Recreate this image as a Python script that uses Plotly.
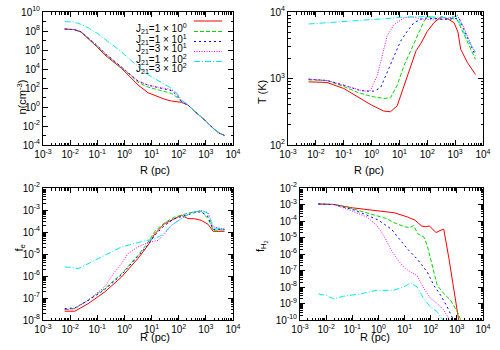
import plotly.graph_objects as go

# ---------------- data (log10 values) ----------------
labels = ["J<sub>21</sub>=1 × 10<sup>0</sup>", "J<sub>21</sub>=1 × 10<sup>1</sup>",
          "J<sub>21</sub>=3 × 10<sup>1</sup>", "J<sub>21</sub>=1 × 10<sup>2</sup>",
          "J<sub>21</sub>=3 × 10<sup>2</sup>"]
colors = ["#ff0000", "#00d800", "#0000ff", "#ff00ff", "#00eaea"]
dashes = ["solid", "4px,2px", "2px,3px", "1px,1.5px", "6px,2px,1px,2px"]

x_exponents = [-3, -2, -1, 0, 1, 2, 3, 4]
n_exponents = [-4, -2, 0, 2, 4, 6, 8, 10]
T_exponents = [2, 3, 4]
fe_exponents = [-8, -7, -6, -5, -4, -3, -2]
fh_exponents = [-10, -9, -8, -7, -6, -5, -4, -3, -2]

# Panel 1: density n (cm^-3) vs R (pc)
n_logR = [-2.2, -1.85, -1.6, -1.34, -1.0, -0.73, -0.42, -0.11, 0.2, 0.5, 0.87, 1.12, 1.5, 1.73, 1.95, 2.1, 2.34, 2.6, 2.96, 3.15, 3.33, 3.5, 3.69]
n_red = [8.2, 8.15, 7.9, 7.23, 6.3, 5.5, 4.75, 4.07, 3.2, 2.32, 1.5, 1.2, 0.8, 0.63, 0.55, 0.49, 0.21, -0.5, -1.37, -1.95, -2.4, -2.75, -3.0]
n_green = [8.2, 8.15, 7.9, 7.25, 6.35, 5.6, 4.85, 4.2, 3.4, 2.6, 2.1, 1.9, 1.6, 1.44, 1.0, 0.55, 0.21, -0.5, -1.37, -1.95, -2.4, -2.75, -3.0]
n_blue = [8.2, 8.15, 7.92, 7.3, 6.45, 5.7, 4.95, 4.3, 3.55, 2.74, 2.3, 2.14, 1.85, 1.72, 1.2, 0.58, 0.21, -0.5, -1.37, -1.95, -2.4, -2.75, -3.0]
n_magenta = [8.2, 8.15, 7.92, 7.3, 6.45, 5.7, 4.95, 4.3, 3.55, 2.74, 2.3, 2.14, 1.95, 1.85, 1.3, 0.6, 0.21, -0.5, -1.37, -1.95, -2.4, -2.75, -3.0]
n_cyan = [8.98, 8.95, 8.7, 8.35, 7.75, 7.2, 6.5, 5.8, 5.0, 4.25, 3.4, 3.0, 2.35, 1.96, 1.4, 0.74, 0.25, -0.5, -1.37, -1.95, -2.4, -2.75, -3.0]

# Panel 2: temperature T (K)
T_red_logR = [-2.26, -1.6, -1.0, -0.5, 0.0, 0.44, 0.68, 0.92, 1.16, 1.4, 1.6, 1.76, 2.0, 2.24, 2.5, 2.72, 2.96, 3.1, 3.2, 3.44, 3.73]
T_red = [2.95, 2.94, 2.85, 2.72, 2.6, 2.51, 2.5, 2.59, 2.89, 3.19, 3.42, 3.52, 3.71, 3.84, 3.93, 3.9, 3.84, 3.7, 3.44, 3.24, 3.06]
T_green_logR = [-2.26, -1.6, -1.0, -0.5, 0.0, 0.44, 0.68, 0.92, 1.16, 1.4, 1.64, 1.88, 2.0, 2.3, 2.6, 2.84, 3.08, 3.32, 3.56, 3.73]
T_green = [2.98, 2.97, 2.88, 2.79, 2.73, 2.70, 2.71, 2.9, 3.19, 3.41, 3.64, 3.86, 3.93, 3.9, 3.88, 3.91, 3.88, 3.66, 3.44, 3.29]
T_blue_logR = [-2.26, -1.6, -1.0, -0.5, -0.2, 0.08, 0.32, 0.56, 0.8, 1.04, 1.28, 1.52, 1.88, 2.3, 2.7, 3.0, 3.14, 3.3, 3.56, 3.73]
T_blue = [2.99, 2.97, 2.9, 2.83, 2.81, 2.81, 2.86, 3.09, 3.34, 3.56, 3.71, 3.84, 3.91, 3.9, 3.89, 3.9, 3.91, 3.75, 3.49, 3.34]
T_magenta_logR = [-2.26, -1.6, -1.0, -0.5, -0.28, -0.04, 0.2, 0.32, 0.56, 0.8, 1.16, 1.4, 1.88, 2.3, 2.7, 3.0, 3.08, 3.3, 3.56, 3.73]
T_magenta = [2.99, 2.97, 2.9, 2.83, 2.81, 2.82, 3.04, 3.24, 3.64, 3.81, 3.91, 3.93, 3.89, 3.88, 3.9, 3.94, 3.95, 3.78, 3.52, 3.39]
T_cyan_logR = [-2.26, -1.5, -0.5, 0.5, 1.04, 1.88, 2.5, 2.84, 3.08, 3.2, 3.44, 3.73]
T_cyan = [3.82, 3.84, 3.87, 3.9, 3.92, 3.93, 3.92, 3.91, 3.94, 3.8, 3.59, 3.4]

# Panel 3: electron fraction f_e
fe_logR = [-2.2, -1.83, -1.34, -0.73, -0.11, 0.5, 0.87, 1.12, 1.48, 1.85, 2.1, 2.34, 2.59, 2.83, 3.08, 3.27, 3.69]
fe_red = [-7.6, -7.6, -7.26, -6.73, -6.05, -5.2, -4.6, -4.08, -3.62, -3.39, -3.24, -3.39, -3.4, -3.47, -3.65, -3.97, -3.97]
fe_green = [-7.53, -7.48, -7.1, -6.58, -5.9, -5.06, -4.48, -3.97, -3.58, -3.32, -3.24, -3.14, -3.09, -3.06, -3.39, -3.92, -3.9]
fe_blue = [-7.48, -7.45, -7.12, -6.62, -5.95, -5.12, -4.58, -4.15, -3.7, -3.39, -3.3, -3.18, -3.12, -3.08, -3.3, -3.88, -3.88]
fe_magenta_logR = [-2.2, -1.83, -1.34, -0.73, -0.36, -0.11, 0.13, 0.5, 0.87, 1.24, 1.48, 1.73, 2.1, 2.46, 2.83, 3.08, 3.27, 3.69]
fe_magenta = [-7.53, -7.48, -7.1, -6.5, -5.82, -5.44, -4.98, -4.68, -4.48, -4.38, -4.08, -3.7, -3.39, -3.12, -3.02, -3.12, -3.76, -3.88]
fe_cyan_logR = [-2.2, -1.83, -1.71, -1.34, -0.73, -0.11, 0.5, 0.87, 1.12, 1.36, 1.73, 2.1, 2.46, 2.83, 3.08, 3.27, 3.69]
fe_cyan = [-5.59, -5.62, -5.67, -5.44, -5.06, -4.68, -4.48, -4.38, -4.3, -4.15, -3.7, -3.39, -3.12, -3.02, -3.15, -3.82, -3.85]

# Panel 4: molecular fraction f_H2
fh_red_logR = [-2.3, -1.7, -1.0, 0.0, 0.6, 1.1, 1.4, 1.65, 1.8, 1.95, 2.2, 2.4, 2.5, 2.7, 2.9, 3.1]
fh_red = [-2.97, -3.0, -3.2, -3.4, -3.5, -3.75, -3.95, -4.3, -4.35, -4.3, -4.7, -4.55, -4.5, -6.3, -8.3, -10.3]
fh_green_logR = [-2.3, -1.7, -1.0, -0.3, 0.3, 0.6, 1.0, 1.2, 1.35, 1.5, 1.74, 1.87, 2.0, 2.12, 2.25, 2.5, 2.76, 3.02, 3.2]
fh_green = [-2.97, -3.0, -3.25, -3.55, -3.85, -4.1, -4.35, -4.4, -4.27, -4.77, -4.98, -5.5, -6.3, -7.1, -7.9, -8.4, -8.8, -9.5, -10.2]
fh_blue_logR = [-2.3, -1.7, -1.0, -0.5, 0.0, 0.5, 1.1, 1.48, 1.87, 2.12, 2.38, 2.63, 2.9]
fh_blue = [-2.97, -3.0, -3.3, -3.6, -3.95, -4.5, -5.68, -6.3, -7.1, -7.9, -8.5, -9.2, -10.1]
fh_magenta_logR = [-2.3, -1.7, -1.08, -0.44, -0.06, 0.2, 0.46, 0.71, 0.97, 1.23, 1.48, 1.74, 2.0, 2.25, 2.5, 2.76]
fh_magenta = [-2.97, -3.0, -3.35, -3.76, -4.27, -4.87, -5.68, -6.29, -6.8, -7.1, -7.3, -8.1, -8.7, -9.0, -9.4, -10.1]
fh_cyan_logR = [-2.3, -1.98, -1.72, -1.34, -0.7, -0.06, 0.58, 0.97, 1.23, 1.48, 1.74, 2.0, 2.25, 2.44, 2.6]
fh_cyan = [-8.42, -8.52, -8.72, -8.56, -8.42, -8.2, -8.2, -8.0, -7.75, -8.0, -8.72, -9.23, -9.5, -10.0, -10.3]

panels = [
    [(n_logR, n_red), (n_logR, n_green), (n_logR, n_blue), (n_logR, n_magenta), (n_logR, n_cyan)],
    [(T_red_logR, T_red), (T_green_logR, T_green), (T_blue_logR, T_blue), (T_magenta_logR, T_magenta), (T_cyan_logR, T_cyan)],
    [(fe_logR, fe_red), (fe_logR, fe_green), (fe_logR, fe_blue), (fe_magenta_logR, fe_magenta), (fe_cyan_logR, fe_cyan)],
    [(fh_red_logR, fh_red), (fh_green_logR, fh_green), (fh_blue_logR, fh_blue), (fh_magenta_logR, fh_magenta), (fh_cyan_logR, fh_cyan)],
]
y_exponents = [n_exponents, T_exponents, fe_exponents, fh_exponents]

# ---------------- figure ----------------
W, H = 500, 350
FONT = "Liberation Sans, Arial, sans-serif"
fig = go.Figure()
for p, series in enumerate(panels):
    ax = "" if p == 0 else str(p + 1)
    for i, (lx, ly) in enumerate(series):
        fig.add_trace(go.Scatter(
            x=[10 ** v for v in lx], y=[10 ** v for v in ly], mode="lines",
            line=dict(color=colors[i], width=1, dash=dashes[i]),
            name=labels[i], showlegend=False, hoverinfo="skip",
            xaxis="x" + ax, yaxis="y" + ax))

def px(x):
    return x / W

def py(y):
    return 1 - y / H

domains = [  # (x0, x1, ytop, ybottom) in pixels
    (43, 233, 12, 145),
    (288, 483, 12, 145),
    (43, 233, 188, 320),
    (300, 483, 188, 320),
]

def pow_labels(exps):
    return [10.0 ** e for e in exps], ["10<sup>%d</sup>" % e for e in exps]

def minor_vals(exps, odd_decades_only=False):
    lo, hi = min(exps), max(exps)
    if odd_decades_only:
        return [10.0 ** e for e in range(lo, hi) if e not in exps]
    return [m * 10.0 ** e for e in range(lo, hi) for m in range(2, 10)]

def axis_common(exps, odd=False):
    vals, texts = pow_labels(exps)
    return dict(type="log", showline=True, linecolor="black", linewidth=1,
                mirror="allticks", ticks="inside", ticklen=5, tickcolor="black",
                tickwidth=1, showgrid=False, zeroline=False, automargin=False,
                tickmode="array", tickvals=vals, ticktext=texts,
                range=[min(exps), max(exps)], fixedrange=True,
                tickfont=dict(size=10, family=FONT, color="black"),
                minor=dict(tickmode="array", tickvals=minor_vals(exps, odd),
                           ticks="inside", ticklen=2.5, tickcolor="black",
                           tickwidth=1, showgrid=False))

layout = dict(width=W, height=H, margin=dict(l=0, r=0, t=0, b=0, autoexpand=False),
              paper_bgcolor="white", plot_bgcolor="white", showlegend=False,
              hovermode=False,
              font=dict(family=FONT, size=10, color="black"))
for p, (x0, x1, yt, yb) in enumerate(domains):
    ax = "" if p == 0 else str(p + 1)
    xa = axis_common(x_exponents)
    xa.update(domain=[px(x0), px(x1)], anchor="y" + ax)
    ya = axis_common(y_exponents[p], odd=(p == 0))
    ya.update(domain=[py(yb), py(yt)], anchor="x" + ax)
    layout["xaxis" + ax] = xa
    layout["yaxis" + ax] = ya
fig.update_layout(**layout)

ann = []
# x titles
for (x0, x1, yt, yb) in domains:
    ann.append(dict(x=px((x0 + x1) / 2), y=py(yb + 25), xref="paper", yref="paper",
                    text="R (pc)", showarrow=False, font=dict(size=11, family=FONT)))
# y titles
ytitles = [("n(cm<sup>-3</sup>)", 12, 78), ("T (K)", 262, 78),
           ("f<sub>e</sub>", 10, 254), ("f<sub>H<sub>2</sub></sub>", 261, 254)]
for t, x, y in ytitles:
    ann.append(dict(x=px(x), y=py(y), xref="paper", yref="paper", text=t,
                    showarrow=False, textangle=-90, font=dict(size=11, family=FONT)))
# legend (text on the left, key line on the right, as in the reference)
rows = [20, 30.5, 40.5, 50.5, 60.5]
shapes = []
for i, yy in enumerate(rows):
    ann.append(dict(x=px(189), y=py(yy), xref="paper", yref="paper", xanchor="right",
                    text=labels[i], showarrow=False, font=dict(size=10, family=FONT)))
    shapes.append(dict(type="line", xref="paper", yref="paper", x0=px(194), x1=px(222),
                       y0=py(yy + 1), y1=py(yy + 1),
                       line=dict(color=colors[i], width=1, dash=dashes[i])))
fig.update_layout(annotations=ann, shapes=shapes)

fig.write_html("out.html", config={"displayModeBar": False, "staticPlot": True},
               post_script="document.body.style.margin='0';document.body.style.overflow='hidden';")
